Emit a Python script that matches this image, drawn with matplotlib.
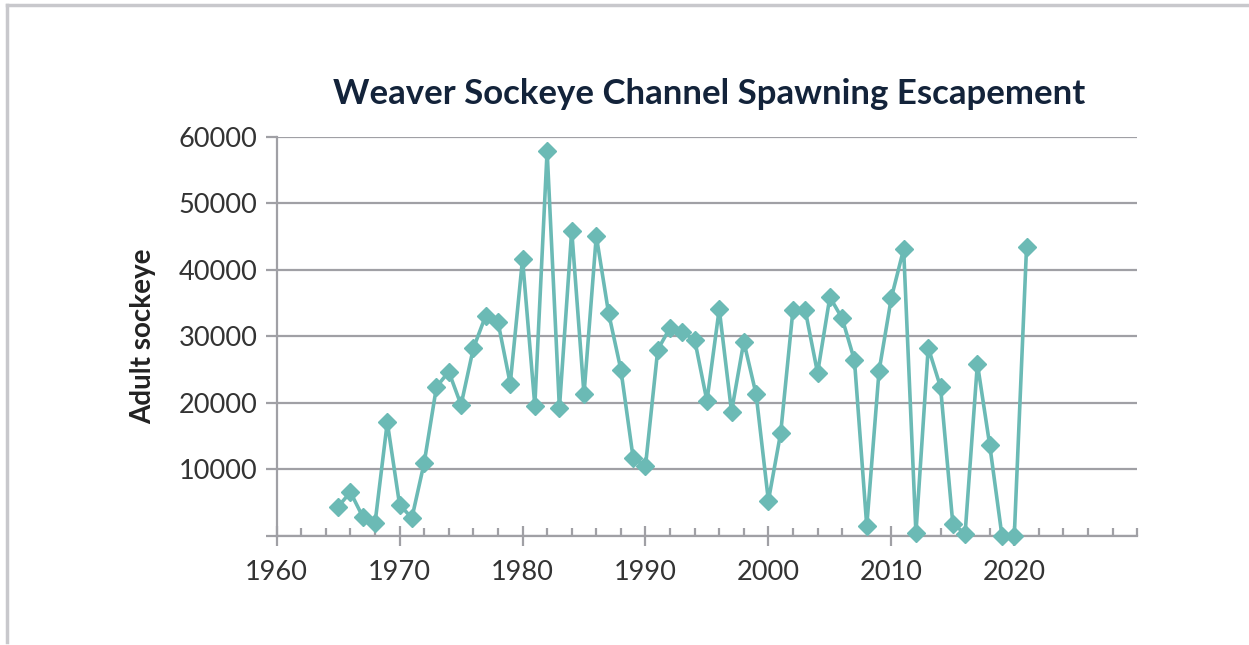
import matplotlib
matplotlib.use('Agg')
import matplotlib.pyplot as plt
from matplotlib.lines import Line2D
from matplotlib.ticker import MultipleLocator

# Weaver Sockeye Channel spawning escapement
years = list(range(1965, 2022))
adults = [
    4400, 6600, 2900, 1900, 17100, 4700, 2700, 11000, 22400, 24700,   # 1965-1974
    19700, 28200, 33100, 32200, 22900, 41600, 19600, 57900, 19200, 45900,  # 1975-1984
    21300, 45100, 33500, 25000, 11700, 10500, 28000, 31300, 30600, 29500,  # 1985-1994
    20300, 34100, 18700, 29200, 21300, 5300, 15500, 34000, 33900, 24500,  # 1995-2004
    35900, 32700, 26400, 1500, 24800, 35800, 43100, 450, 28300, 22400,    # 2005-2014
    1850, 350, 25900, 13700, 0, 0, 43500,                                 # 2015-2021
]
ytick_vals = [10000, 20000, 30000, 40000, 50000, 60000]
xtick_vals = [1960, 1970, 1980, 1990, 2000, 2010, 2020]

teal = '#6bbab5'
grid_col = '#a0a0a5'
text_col = '#333333'
title_col = '#13233a'

plt.rcParams['font.family'] = ['Lato', 'DejaVu Sans']

fig = plt.figure(figsize=(12.49, 6.45), dpi=100)
ax = fig.add_axes([0.2215, 0.169, 0.689, 0.619])

ax.plot(years, adults, color=teal, lw=2.6, marker='D', ms=9.5,
        mec=teal, mfc=teal, zorder=3, clip_on=False)

ax.set_xlim(1960, 2030)
ax.set_ylim(0, 60000)
ax.set_xticks(xtick_vals)
ax.xaxis.set_minor_locator(MultipleLocator(2))
ax.set_yticks([0] + ytick_vals)
ax.set_yticklabels([''] + [str(v) for v in ytick_vals])

ax.yaxis.grid(True, color=grid_col, lw=1.6)
ax.set_axisbelow(True)
for s in ['top', 'right']:
    ax.spines[s].set_visible(False)
for s in ['left', 'bottom']:
    ax.spines[s].set_color(grid_col)
    ax.spines[s].set_linewidth(1.6)

ax.tick_params(axis='y', direction='out', length=8, width=1.6, color=grid_col,
               labelsize=19.5, labelcolor=text_col, pad=6)
ax.tick_params(axis='x', which='major', direction='inout', length=14, width=1.6,
               color=grid_col, labelsize=19.5, labelcolor=text_col, pad=10)
ax.tick_params(axis='x', which='minor', direction='in', length=6, width=1.6,
               color=grid_col)

ax.set_ylabel('Adult sockeye', fontsize=20, fontweight='bold', color='#222222',
              labelpad=16)
fig.text(0.568, 0.855, 'Weaver Sockeye Channel Spawning Escapement',
         fontsize=25, fontweight='bold', color=title_col, ha='center', va='center')

# light frame around the chart area (top and left edges visible)
fig.add_artist(Line2D([0.0056, 1.0], [0.992, 0.992], color='#c8c8cc', lw=2.5,
                      transform=fig.transFigure))
fig.add_artist(Line2D([0.0056, 0.0056], [0.005, 0.992], color='#c8c8cc', lw=2.5,
                      transform=fig.transFigure))

fig.savefig('out.png', dpi=100)
